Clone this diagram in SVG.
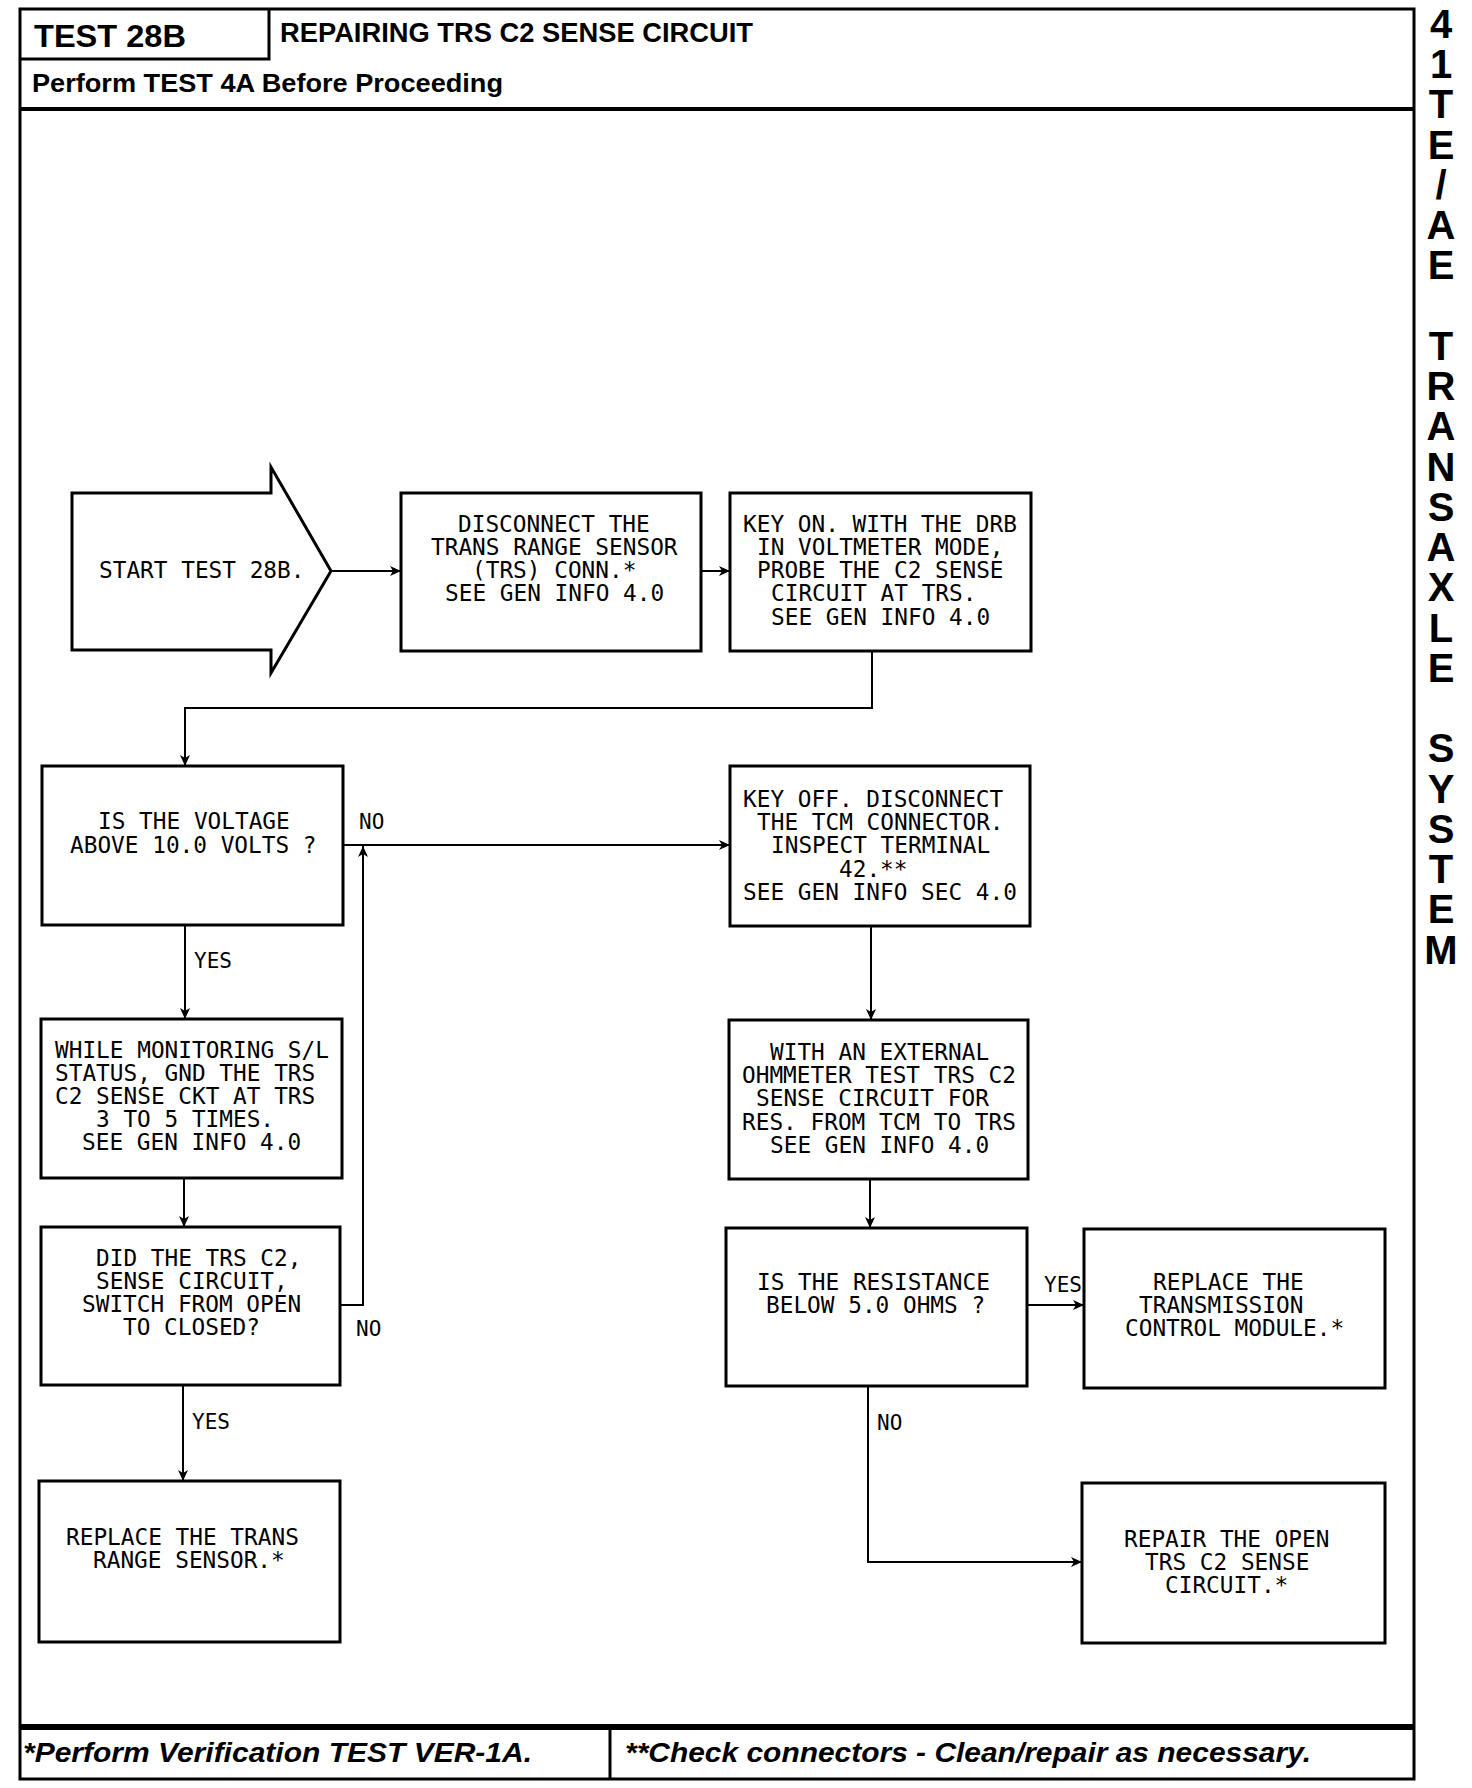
<svg xmlns="http://www.w3.org/2000/svg" width="1472" height="1788" viewBox="0 0 1472 1788">
<style>
.frame{fill:none;stroke:#000;stroke-width:3}
.box{fill:#fff;stroke:#000;stroke-width:3}
.conn{fill:none;stroke:#000;stroke-width:2}
.t{font-family:"DejaVu Sans Mono","Liberation Mono",monospace;font-size:22.75px;fill:#000}
.lbl{font-family:"DejaVu Sans Mono","Liberation Mono",monospace;font-size:21px;fill:#000}
.hd{font-family:"Liberation Sans",Arial,sans-serif;font-weight:bold;fill:#000}
.ft{font-family:"Liberation Sans",Arial,sans-serif;font-weight:bold;font-style:italic;font-size:28px;fill:#000}
.side{font-family:"Liberation Sans",Arial,sans-serif;font-weight:bold;font-size:40px;fill:#000}
</style>
<defs>
<marker id="arr" markerUnits="userSpaceOnUse" markerWidth="12" markerHeight="10" refX="11" refY="5" orient="auto">
<path d="M0,0 L11,5 L0,10 L3,5 z" fill="#000"/>
</marker>
</defs>
<rect width="1472" height="1788" fill="#fff"/>
<g id="frame">
<path class="frame" d="M20,9 H1414 V1779 H20 Z"/>
<line x1="20" y1="109" x2="1414" y2="109" stroke="#000" stroke-width="4"/>
<path class="frame" d="M20,59 H269 V9"/>
<line x1="20" y1="1727" x2="1414" y2="1727" stroke="#000" stroke-width="6"/>
<line x1="610" y1="1727" x2="610" y2="1779" stroke="#000" stroke-width="3"/>
<text class="hd" x="34" y="47" font-size="32" textLength="152" lengthAdjust="spacingAndGlyphs">TEST 28B</text>
<text class="hd" x="280" y="42" font-size="27" textLength="473" lengthAdjust="spacingAndGlyphs">REPAIRING TRS C2 SENSE CIRCUIT</text>
<text class="hd" x="32" y="92" font-size="25" textLength="471" lengthAdjust="spacingAndGlyphs">Perform TEST 4A Before Proceeding</text>
<text class="ft" x="23" y="1762" textLength="509" lengthAdjust="spacingAndGlyphs">*Perform Verification TEST VER-1A.</text>
<text class="ft" x="625" y="1762" textLength="686" lengthAdjust="spacingAndGlyphs">**Check connectors - Clean/repair as necessary.</text>
<text class="side" text-anchor="middle" xml:space="preserve" x="1441 1441 1441 1441 1441 1441 1441 1441 1441 1441 1441 1441 1441 1441 1441 1441 1441 1441 1441 1441 1441 1441 1441 1441" y="38 78 118 159 199 239 279 320 360 400 440 481 521 561 601 642 682 722 762 803 843 883 923 964">41TE/AE TRANSAXLE SYSTEM</text>
</g>
<g id="connectors">
<line class="conn" x1="331" y1="571" x2="401" y2="571" marker-end="url(#arr)"/>
<line class="conn" x1="701" y1="571" x2="730" y2="571" marker-end="url(#arr)"/>
<path class="conn" d="M872,651 V708 H185 V766" marker-end="url(#arr)"/>
<line class="conn" x1="343" y1="845" x2="730" y2="845" marker-end="url(#arr)"/>
<path class="conn" d="M340,1305 H363 V846" marker-end="url(#arr)"/>
<line class="conn" x1="185" y1="925" x2="185" y2="1019" marker-end="url(#arr)"/>
<line class="conn" x1="184" y1="1178" x2="184" y2="1227" marker-end="url(#arr)"/>
<line class="conn" x1="183" y1="1385" x2="183" y2="1481" marker-end="url(#arr)"/>
<line class="conn" x1="871" y1="926" x2="871" y2="1020" marker-end="url(#arr)"/>
<line class="conn" x1="870" y1="1179" x2="870" y2="1228" marker-end="url(#arr)"/>
<line class="conn" x1="1027" y1="1305" x2="1084" y2="1305" marker-end="url(#arr)"/>
<path class="conn" d="M868,1386 V1562 H1082" marker-end="url(#arr)"/>
<text class="lbl" x="359" y="829">NO</text>
<text class="lbl" x="194" y="968">YES</text>
<text class="lbl" x="356" y="1336">NO</text>
<text class="lbl" x="192" y="1429">YES</text>
<text class="lbl" x="1044" y="1292">YES</text>
<text class="lbl" x="877" y="1430">NO</text>
</g>
<g id="start">
<polygon class="box" points="72,493 271,493 271,467 331,571 271,673 271,650 72,650"/>
<text class="t" x="99" y="578">START TEST 28B.</text>
</g>
<g id="disconnect">
<rect class="box" x="401" y="493" width="300" height="158"/>
<text class="t" x="458" y="532">DISCONNECT THE</text>
<text class="t" x="431" y="555">TRANS RANGE SENSOR</text>
<text class="t" x="472" y="578">(TRS) CONN.*</text>
<text class="t" x="445" y="601">SEE GEN INFO 4.0</text>
</g>
<g id="keyon">
<rect class="box" x="730" y="493" width="301" height="158"/>
<text class="t" x="743" y="532">KEY ON. WITH THE DRB</text>
<text class="t" x="757" y="555">IN VOLTMETER MODE,</text>
<text class="t" x="757" y="578">PROBE THE C2 SENSE</text>
<text class="t" x="771" y="601">CIRCUIT AT TRS.</text>
<text class="t" x="771" y="625">SEE GEN INFO 4.0</text>
</g>
<g id="voltage">
<rect class="box" x="42" y="766" width="301" height="159"/>
<text class="t" x="98" y="829">IS THE VOLTAGE</text>
<text class="t" x="70" y="853">ABOVE 10.0 VOLTS ?</text>
</g>
<g id="keyoff">
<rect class="box" x="730" y="766" width="300" height="160"/>
<text class="t" x="743" y="807">KEY OFF. DISCONNECT</text>
<text class="t" x="757" y="830">THE TCM CONNECTOR.</text>
<text class="t" x="771" y="853">INSPECT TERMINAL</text>
<text class="t" x="839" y="877">42.**</text>
<text class="t" x="743" y="900">SEE GEN INFO SEC 4.0</text>
</g>
<g id="monitor">
<rect class="box" x="41" y="1019" width="301" height="159"/>
<text class="t" x="55" y="1058">WHILE MONITORING S/L</text>
<text class="t" x="55" y="1081">STATUS, GND THE TRS</text>
<text class="t" x="55" y="1104">C2 SENSE CKT AT TRS</text>
<text class="t" x="96" y="1127">3 TO 5 TIMES.</text>
<text class="t" x="82" y="1150">SEE GEN INFO 4.0</text>
</g>
<g id="ohmmeter">
<rect class="box" x="729" y="1020" width="299" height="159"/>
<text class="t" x="770" y="1060">WITH AN EXTERNAL</text>
<text class="t" x="742" y="1083">OHMMETER TEST TRS C2</text>
<text class="t" x="756" y="1106">SENSE CIRCUIT FOR</text>
<text class="t" x="742" y="1130">RES. FROM TCM TO TRS</text>
<text class="t" x="770" y="1153">SEE GEN INFO 4.0</text>
</g>
<g id="switch">
<rect class="box" x="41" y="1227" width="299" height="158"/>
<text class="t" x="96" y="1266">DID THE TRS C2,</text>
<text class="t" x="96" y="1289">SENSE CIRCUIT,</text>
<text class="t" x="82" y="1312">SWITCH FROM OPEN</text>
<text class="t" x="123" y="1335">TO CLOSED?</text>
</g>
<g id="resistance">
<rect class="box" x="726" y="1228" width="301" height="158"/>
<text class="t" x="757" y="1290">IS THE RESISTANCE</text>
<text class="t" x="766" y="1313">BELOW 5.0 OHMS ?</text>
</g>
<g id="replace-tcm">
<rect class="box" x="1084" y="1229" width="301" height="159"/>
<text class="t" x="1153" y="1290">REPLACE THE</text>
<text class="t" x="1139" y="1313">TRANSMISSION</text>
<text class="t" x="1125" y="1336">CONTROL MODULE.*</text>
</g>
<g id="replace-trs">
<rect class="box" x="39" y="1481" width="301" height="161"/>
<text class="t" x="66" y="1545">REPLACE THE TRANS</text>
<text class="t" x="93" y="1568">RANGE SENSOR.*</text>
</g>
<g id="repair">
<rect class="box" x="1082" y="1483" width="303" height="160"/>
<text class="t" x="1124" y="1547">REPAIR THE OPEN</text>
<text class="t" x="1145" y="1570">TRS C2 SENSE</text>
<text class="t" x="1165" y="1593">CIRCUIT.*</text>
</g>
</svg>
